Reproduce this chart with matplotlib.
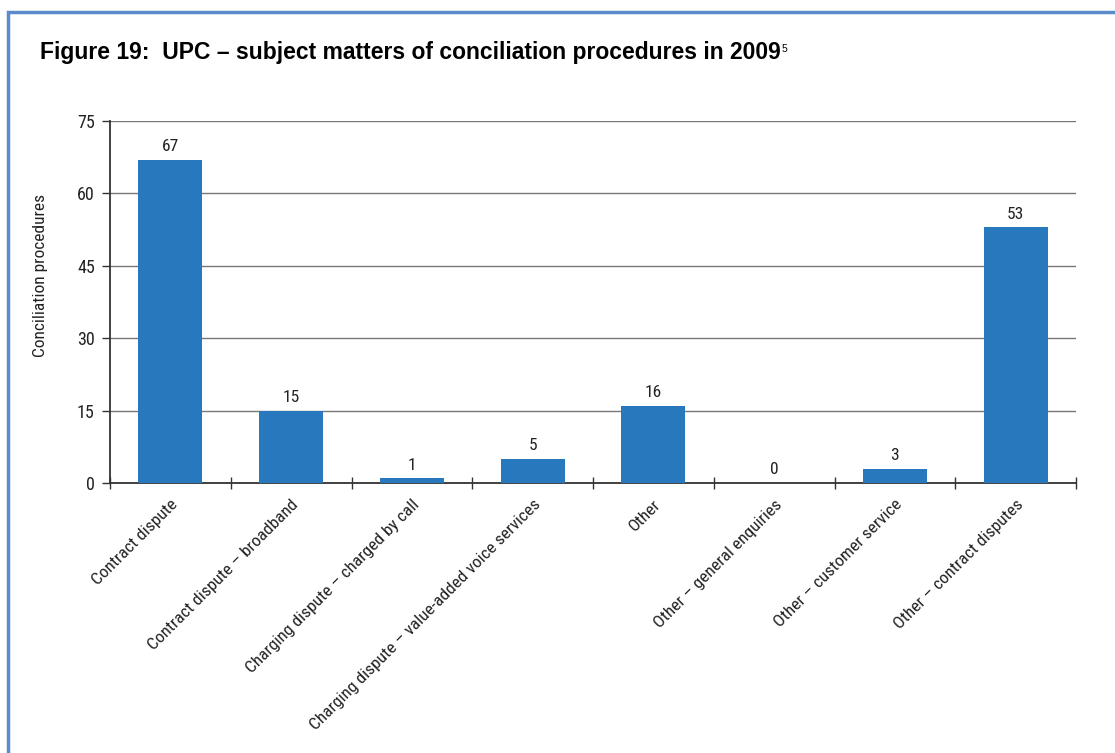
import matplotlib
matplotlib.use("Agg")
import matplotlib.pyplot as plt
from matplotlib import font_manager
from matplotlib.patches import Rectangle

categories = [
    "Contract dispute",
    "Contract dispute \u2013 broadband",
    "Charging dispute \u2013 charged by call",
    "Charging dispute \u2013 value-added voice services",
    "Other",
    "Other \u2013 general enquiries",
    "Other \u2013 customer service",
    "Other \u2013 contract disputes",
]
values = [67, 15, 1, 5, 16, 0, 3, 53]
y_ticks = [0, 15, 30, 45, 60, 75]

available = {f.name for f in font_manager.fontManager.ttflist}
narrow = next((n for n in ["Roboto Condensed", "Archivo Narrow", "Liberation Sans Narrow",
                            "Asap Condensed", "Roboto"] if n in available), "DejaVu Sans")
title_font = next((n for n in ["Liberation Sans", "Arimo"] if n in available), "DejaVu Sans")

W, H, DPI = 1115, 753, 100
fig = plt.figure(figsize=(W / DPI, H / DPI), dpi=DPI)

# blue frame around the figure (open at right and bottom edges)
frame = Rectangle((8 / W, -0.05), 1.2, (H - 12) / H + 0.05, transform=fig.transFigure,
                  fill=False, edgecolor="#5b8bcb", linewidth=2.5)
fig.patches.append(frame)

title = fig.text(40 / W, 1 - 52 / H,
                 "Figure 19:  UPC \u2013 subject matters of conciliation procedures in 2009",
                 fontsize=16.5, fontweight="bold", family=title_font, va="center", ha="left")
fig.canvas.draw()
tb = title.get_window_extent(fig.canvas.get_renderer())
fig.text((tb.x1 + 1) / W, (tb.y1 - 3) / H, "5", fontsize=7.5, family=title_font,
         va="top", ha="left")

left, right, top, bottom = 110, 1076, 121, 483
ax = fig.add_axes([left / W, 1 - bottom / H, (right - left) / W, (bottom - top) / H])

x = list(range(len(categories)))
ax.bar(x, values, width=0.53, color="#2878bd", zorder=3)
for xi, v in zip(x, values):
    ax.annotate(str(v), (xi, v), xytext=(0, 4), textcoords="offset points",
                ha="center", va="bottom", fontsize=12.5, family=narrow, color="#222222")

ax.set_xlim(-0.5, len(categories) - 0.5)
ax.set_ylim(0, 75)
ax.set_yticks(y_ticks)
ax.yaxis.grid(True, color="#777777", linewidth=1.0, zorder=0)
ax.set_axisbelow(True)

for s in ("top", "right"):
    ax.spines[s].set_visible(False)
for s in ("left", "bottom"):
    ax.spines[s].set_color("#333333")
    ax.spines[s].set_linewidth(1.3)

ax.tick_params(axis="y", length=6, width=1, color="#333333", labelsize=13, pad=5)
for lab in ax.get_yticklabels():
    lab.set_family(narrow)
    lab.set_color("#222222")

# x ticks at category boundaries, labels at category centres
ax.set_xticks([i - 0.5 for i in range(len(categories) + 1)])
ax.set_xticklabels([])
ax.tick_params(axis="x", which="major", direction="inout", length=9, width=1, color="#333333")
ax.set_xticks(x, minor=True)
ax.set_xticklabels(categories, minor=True, rotation=45, ha="right", rotation_mode="anchor",
                   fontsize=12.5, family=narrow, color="#222222")
ax.tick_params(axis="x", which="minor", length=0, pad=10)

ax.set_ylabel("Conciliation procedures", fontsize=12.5, family=narrow, color="#222222")
ax.yaxis.set_label_coords(-62 / (right - left), (bottom - 275) / (bottom - top))

fig.savefig("out.png", dpi=DPI)
